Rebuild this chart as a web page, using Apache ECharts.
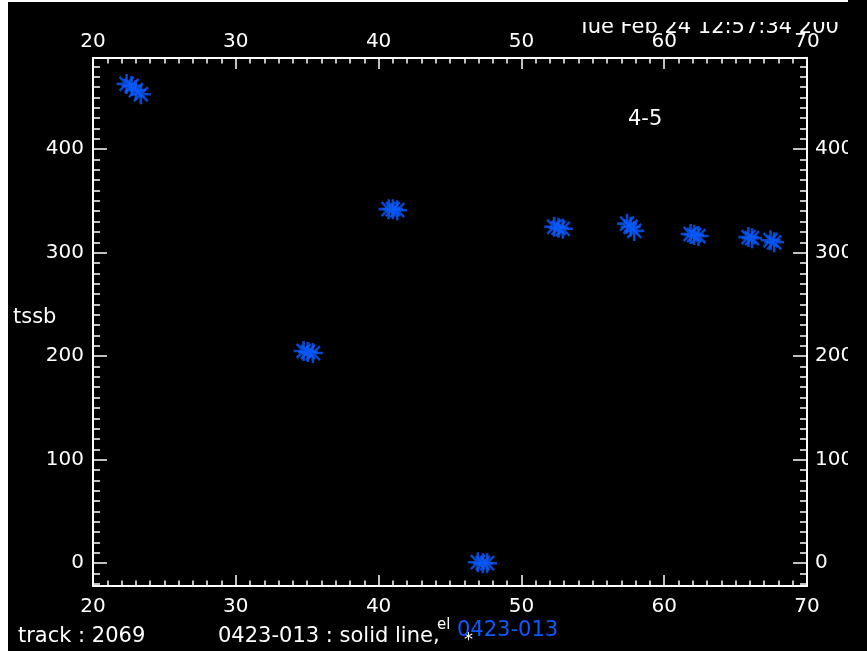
<!DOCTYPE html>
<html><head><meta charset="utf-8">
<script src="https://cdn.jsdelivr.net/npm/echarts@6/dist/echarts.min.js"></script>
<style>html,body{margin:0;padding:0;background:#fff;overflow:hidden}#c{width:867px;height:651px;}</style>
</head><body><div id="c"></div>
<script>
// elevation (x) and tssb (y) values
const elX  = [22.35, 22.7, 23.0, 23.35, 34.75, 35.05, 35.4, 40.7, 41.0, 41.3, 46.95, 47.3, 47.6, 52.3, 52.6, 52.9, 57.4, 57.65, 57.9, 61.85, 62.1, 62.4, 65.9, 66.15, 67.45, 67.7];
const tssbY = [463, 461, 457, 453, 205, 204, 203, 342, 342, 341, 1, 0, 0, 325, 324, 323, 328, 325, 321, 318, 317, 316, 315, 314, 312, 310];
const xRange = [20, 70];
const yRange = [-22, 488];
const yTitle = 'tssb';
const panelLabel = '4-5';
const stamp = 'Tue Feb 24 12:57:34 200';
const footTrack = 'track : 2069';
const footLine = '0423-013 : solid line,';
const footEl = 'el';
const footSource = '0423-013';

const FONT = 'DejaVu Sans';
const WHITE = '#ffffff';
const BLUE = '#0a5aff';
const labelStyle = {color: WHITE, fontFamily: FONT, fontSize: 20, fontWeight: 'normal'};
const star = 'path://M0 8.7L20 8.7L20 11.3L0 11.3Z M8.7 0L11.3 0L11.3 20L8.7 20Z M2.1 3.9L3.9 2.1L17.9 16.1L16.1 17.9Z M16.1 2.1L17.9 3.9L3.9 17.9L2.1 16.1Z';

function xAxis(pos, margin) {
  return {type: 'value', position: pos, min: xRange[0], max: xRange[1], interval: 10,
    axisLine: {show: true, onZero: false, lineStyle: {color: WHITE, width: 2}},
    axisTick: {show: true, inside: true, length: 11, lineStyle: {color: WHITE, width: 1.5}},
    minorTick: {show: true, splitNumber: 10, length: 5.5, lineStyle: {color: WHITE, width: 1.5}},
    axisLabel: Object.assign({margin: margin}, labelStyle),
    splitLine: {show: false}, minorSplitLine: {show: false}};
}
function yMajor(pos, margin, line) {
  return {type: 'value', position: pos, min: yRange[0], max: yRange[1], minInterval: 100, maxInterval: 100,
    axisLine: {show: line, onZero: false, lineStyle: {color: WHITE, width: 2}},
    axisTick: {show: true, inside: true, length: 14, lineStyle: {color: WHITE, width: 1.5}},
    axisLabel: Object.assign({margin: margin, showMinLabel: false, showMaxLabel: false}, labelStyle),
    splitLine: {show: false}};
}
function yMinor(pos) {
  return {type: 'value', position: pos, min: yRange[0], max: yRange[1], minInterval: 10, maxInterval: 10,
    axisLine: {show: false}, axisLabel: {show: false},
    axisTick: {show: true, inside: true, length: 7, lineStyle: {color: WHITE, width: 1.5}},
    splitLine: {show: false}};
}
function txt(t, x, y, opts) {
  return Object.assign({type: 'text', x: x, y: y, z: 50,
    style: Object.assign({text: t, fill: WHITE, font: '21px "DejaVu Sans"', textAlign: 'left', textVerticalAlign: 'middle'}, opts || {})});
}

const chart = echarts.init(document.getElementById('c'), null, {renderer: 'canvas'});
chart.setOption({
  backgroundColor: '#ffffff',
  animation: false,
  grid: {left: 93, top: 58, width: 714, height: 528, containLabel: false},
  xAxis: [xAxis('bottom', 11), xAxis('top', 6)],
  yAxis: [yMajor('left', 9, true), yMinor('left'), yMajor('right', 8, true), yMinor('right')],
  series: [{
    type: 'scatter', xAxisIndex: 0, yAxisIndex: 0,
    data: elX.map((x, i) => [x, tssbY[i]]),
    symbol: star, symbolSize: 20,
    itemStyle: {color: BLUE}
  }],
  graphic: [
    {type: 'rect', z: -100, silent: true, shape: {x: 8, y: 2, width: 859, height: 649}, style: {fill: '#000'}},
    txt(yTitle, 13, 318),
    txt(panelLabel, 628, 120),
    txt(stamp, 578, 28),
    txt(footTrack, 18, 637),
    txt(footLine, 218, 637),
    txt(footEl, 437, 625, {font: '15px "DejaVu Sans"'}),
    txt('*', 464, 640, {font: '18px "DejaVu Sans"'}),
    txt(footSource, 457, 631, {fill: BLUE}),
    {type: 'rect', z: 100, silent: true, shape: {x: 848, y: 0, width: 19, height: 651}, style: {fill: '#000'}},
    {type: 'rect', z: 100, silent: true, shape: {x: 570, y: 2, width: 278, height: 20}, style: {fill: '#000'}}
  ]
});
</script></body></html>
